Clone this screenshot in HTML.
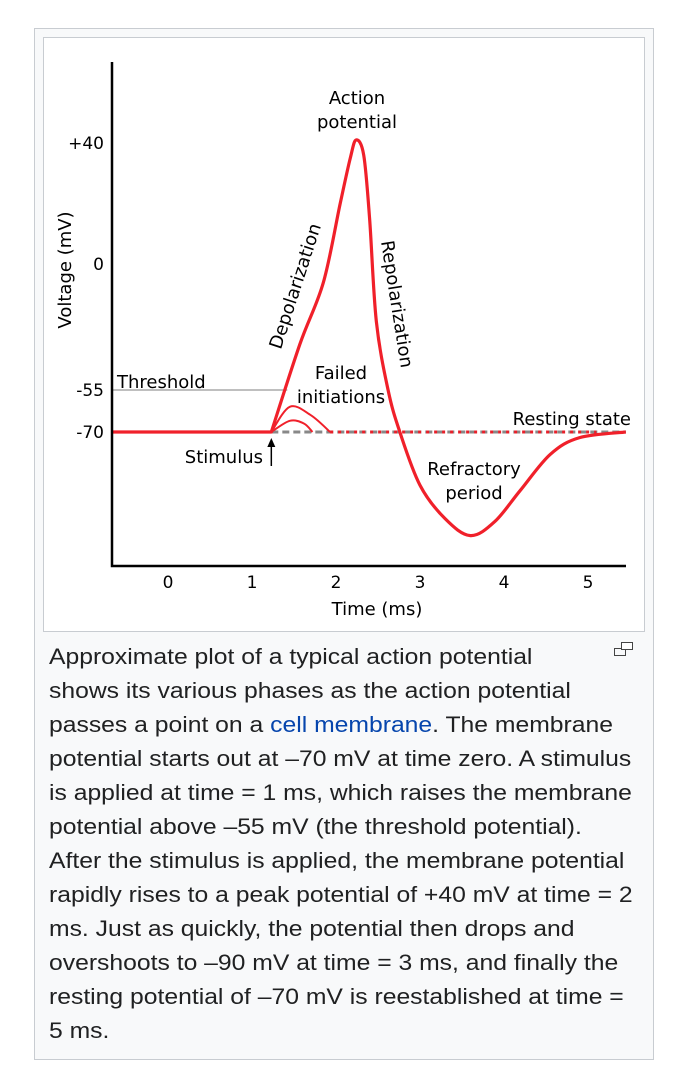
<!DOCTYPE html>
<html><head><meta charset="utf-8"><style>
html,body{margin:0;padding:0;background:#fff;width:674px;height:1092px;overflow:hidden}
#frame{position:absolute;left:34px;top:28px;width:618px;height:1030px;background:#f8f9fa;border:1px solid #c8ccd1}
#imgbox{position:absolute;left:8px;top:8px;width:600px;height:593px;background:#fff;border:1px solid #c8ccd1}
#cap{position:absolute;left:14px;top:611px;width:600px;font:22px/34px "Liberation Sans",sans-serif;color:#202122;white-space:nowrap;transform:scaleX(1.123);transform-origin:0 0}
#cap a{color:#0645ad;text-decoration:none}
svg text{font-family:"DejaVu Sans","Liberation Sans",sans-serif;fill:#000}
</style></head><body>
<div id="frame">
<div id="imgbox"></div>
<div id="cap">Approximate plot of a typical action potential<br>shows its various phases as the action potential<br>passes a point on a <a href="#">cell membrane</a>. The membrane<br>potential starts out at –70 mV at time zero. A stimulus<br>is applied at time = 1 ms, which raises the membrane<br>potential above –55 mV (the threshold potential).<br>After the stimulus is applied, the membrane potential<br>rapidly rises to a peak potential of +40 mV at time = 2<br>ms. Just as quickly, the potential then drops and<br>overshoots to –90 mV at time = 3 ms, and finally the<br>resting potential of –70 mV is reestablished at time =<br>5 ms.</div>
<svg style="position:absolute;left:578px;top:611px" width="22" height="18"><rect x="1.5" y="8.5" width="11" height="7" fill="none" stroke="#444"/><rect x="8.5" y="2.5" width="11" height="7" fill="#fff" stroke="#444"/></svg>
</div>
<svg id="chart" width="674" height="1092" style="position:absolute;left:0;top:0"></svg>
<script>
const xTicks=[0,1,2,3,4,5];
const yTicks=[40,0,-55,-70];
const yTickLabels=["+40","0","-55","-70"];
const apTime=[1.23,1.57,1.85,2.05,2.17,2.24,2.33,2.4,2.48,2.62,2.76,3.0,3.3,3.6,3.89,4.19,4.55,4.9,5.45];
const apVolt=[-70,-35,-8,20,35,41,36,15,-25,-55,-70,-89,-101,-107,-102,-91,-78,-72,-70];
const fail1Time=[1.23,1.45,1.7,1.93];const fail1Volt=[-70,-61,-64,-70];
const fail2Time=[1.23,1.45,1.62,1.72];const fail2Volt=[-70,-66,-67,-70];
const restV=-70, threshV=-55, stimT=1.23, startT=-0.67;
const X=t=>168+t*84;
const yKnots=[[40,143],[0,264],[-55,390],[-70,432]];
function Y(v){
 if(v>=40)return 143-(v-40)*3.03;
 if(v<=-70)return 432+(-70-v)*2.8;
 for(let i=0;i<3;i++){const[a,ya]=yKnots[i],[b,yb]=yKnots[i+1];if(v<=a&&v>=b)return ya+(v-a)/(b-a)*(yb-ya);}
}
const svg=document.getElementById('chart');const NS='http://www.w3.org/2000/svg';
function mk(tag,at,txt){const e=document.createElementNS(NS,tag);for(const k in at)e.setAttribute(k,at[k]);if(txt!=null)e.textContent=txt;svg.appendChild(e);return e;}
function smooth(ts,vs,pre){const p=ts.map((t,i)=>[X(t),Y(vs[i])]);let d=pre?`M${X(startT)},${Y(restV)} L${p[0][0]},${p[0][1]}`:`M${p[0][0]},${p[0][1]}`;
 for(let i=0;i<p.length-1;i++){const p0=p[i-1]||p[i],p1=p[i],p2=p[i+1],p3=p[i+2]||p2;
 d+=` C${p1[0]+(p2[0]-p0[0])/6},${p1[1]+(p2[1]-p0[1])/6} ${p2[0]-(p3[0]-p1[0])/6},${p2[1]-(p3[1]-p1[1])/6} ${p2[0]},${p2[1]}`;}return d;}
let e;
e=mk('line',{x1:112,y1:Y(threshV),x2:X(1.42),y2:Y(threshV),stroke:'#aaa','stroke-width':1.5});

e=mk('line',{x1:X(stimT),y1:Y(restV),x2:626,y2:Y(restV),stroke:'#888','stroke-width':3,'stroke-dasharray':'7,4'});

e=mk('line',{x1:X(1.93),y1:Y(restV),x2:X(5.1),y2:Y(restV),stroke:'#e8202a','stroke-width':3,'stroke-dasharray':'3,5'});

e=mk('path',{d:smooth(fail1Time,fail1Volt),fill:'none',stroke:'#f0202a','stroke-width':2});

e=mk('path',{d:smooth(fail2Time,fail2Volt),fill:'none',stroke:'#f0202a','stroke-width':2});

e=mk('path',{d:smooth(apTime,apVolt,true),fill:'none',stroke:'#f0202a','stroke-width':3.2,'stroke-linejoin':'round'});

e=mk('path',{d:'M112,62 V566 H626',fill:'none',stroke:'#000','stroke-width':2.5});

xTicks.forEach(t=>{const l=mk('text',{x:X(t),y:588,'font-size':17,'text-anchor':'middle'},String(t));
});
yTicks.forEach((v,i)=>{const l=mk('text',{x:104,y:Y(v)+6,'font-size':17,'text-anchor':'end'},yTickLabels[i]);
});
function lab(txt,x,y,name,extra){const l=mk('text',Object.assign({x:x,y:y,'font-size':18,'text-anchor':'middle'},extra||{}),txt);return l;}
lab('Time (ms)',377,615,'x-axis-title');
lab('Voltage (mV)',0,0,'y-axis-title',{transform:'translate(71,270) rotate(-90)'});
lab('Action',357,104,'action-label');lab('potential',357,128,'action-label-2');
lab('Threshold',117,388,'threshold-label',{'text-anchor':'start'});
lab('Failed',341,379,'failed-label');lab('initiations',341,403,'failed-label-2');
lab('Resting state',631,425,'resting-label',{'text-anchor':'end'});
lab('Stimulus',263,463,'stimulus-label',{'text-anchor':'end'});
lab('Refractory',474,475,'refractory-label');lab('period',474,499,'refractory-label-2');
lab('Depolarization',0,0,'depolarization-label',{transform:'translate(301,288) rotate(-72)'});
lab('Repolarization',0,0,'repolarization-label',{transform:'translate(391,305) rotate(81)'});
e=mk('path',{d:`M${X(stimT)},466 V444`,stroke:'#000','stroke-width':1.5});

e=mk('path',{d:`M${X(stimT)-4},447 L${X(stimT)},438 L${X(stimT)+4},447Z`,fill:'#000'});

</script>
</body></html>
